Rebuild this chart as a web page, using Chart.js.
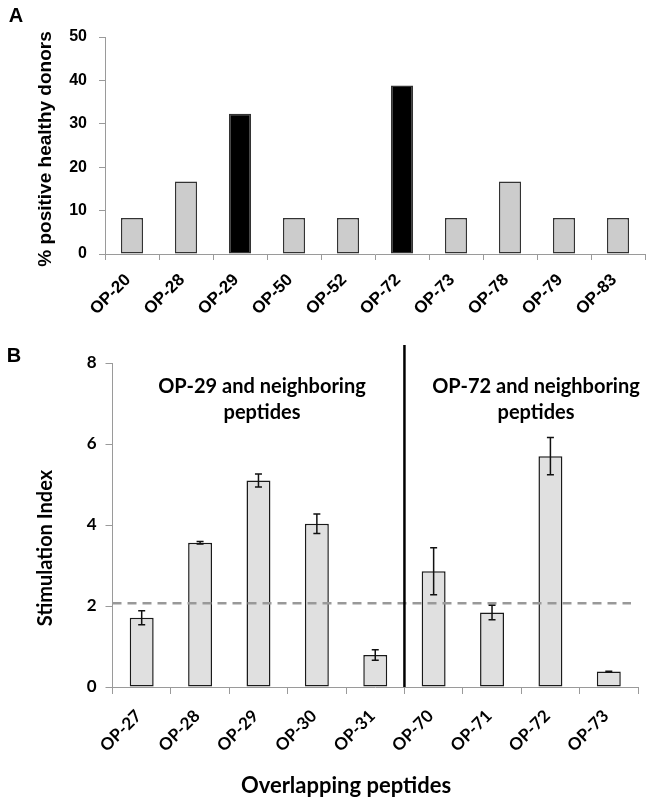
<!DOCTYPE html>
<html>
<head>
<meta charset="utf-8">
<script src="https://cdn.jsdelivr.net/npm/chart.js@4.4.1/dist/chart.umd.min.js"></script>
<style>
  body { margin: 0; background: #fff; }
  #wrap { position: relative; width: 650px; height: 803px; overflow: hidden; }
  canvas { position: absolute; left: 0; }
  .t { position: absolute; transform: translate(-50%, -50%); white-space: nowrap; font-weight: bold; color: #000; line-height: 1.3; text-align: center; }
  .arial { font-family: 'Liberation Sans', Arial, sans-serif; }
  .cal { font-family: Lato, 'Open Sans', sans-serif; }
  .rot { transform: translate(-50%, -50%) rotate(-90deg); }
</style>
</head>
<body>
<div id="wrap">
  <canvas id="chartA" width="650" height="320" style="top:0"></canvas>
  <canvas id="chartB" width="650" height="473" style="top:330px"></canvas>

  <div class="t arial" style="left:16px; top:15px; font-size:20px">A</div>
  <div class="t arial rot" style="left:45px; top:149px; font-size:19px">% positive healthy donors</div>

  <div class="t arial" style="left:14px; top:355px; font-size:20px">B</div>
  <div class="t cal rot" style="left:44px; top:548px; font-size:20px">Stimulation Index</div>
  <div class="t cal" style="left:262px; top:398px; font-size:20px">OP-29 and neighboring<br>peptides</div>
  <div class="t cal" style="left:536px; top:398px; font-size:20px">OP-72 and neighboring<br>peptides</div>
  <div class="t cal" style="left:346px; top:785px; font-size:22px">Overlapping peptides</div>
</div>
<script>
// Panel A: % positive healthy donors
const catsA = ['OP-20', 'OP-28', 'OP-29', 'OP-50', 'OP-52', 'OP-72', 'OP-73', 'OP-78', 'OP-79', 'OP-83'];
const pctA = [8.3, 16.7, 32.3, 8.3, 8.3, 38.8, 8.3, 16.7, 8.3, 8.3];
const highlightA = ['OP-29', 'OP-72'];
const ticksA = [0, 10, 20, 30, 40, 50];

// Panel B: stimulation index (mean, error)
const catsB = ['OP-27', 'OP-28', 'OP-29', 'OP-30', 'OP-31', 'OP-70', 'OP-71', 'OP-72', 'OP-73'];
const siB = [1.71, 3.56, 5.10, 4.03, 0.79, 2.86, 1.84, 5.70, 0.38];
const errB = [0.17, 0.03, 0.16, 0.24, 0.13, 0.58, 0.18, 0.46, 0.01];
const ticksB = [0, 2, 4, 6, 8];
const cutoffB = 2.07;

const arialB = { family: "'Liberation Sans', Arial, sans-serif", weight: 'bold', size: 16 };
const arialX = { family: "'Liberation Sans', Arial, sans-serif", weight: 'bold', size: 17 };
const latoB = { family: "Lato, 'Open Sans', sans-serif", weight: 'bold', size: 17 };
const axisGrey = '#9a9a9a';

const chartA = new Chart(document.getElementById('chartA'), {
    type: 'bar',
    data: {
        labels: catsA,
        datasets: [{
            data: pctA,
            backgroundColor: catsA.map(c => highlightA.includes(c) ? '#000000' : '#cccccc'),
            borderColor: '#333333',
            borderWidth: 1.5,
            borderSkipped: false,
            categoryPercentage: 1,
            barPercentage: 0.41
        }]
    },
    options: {
        responsive: false,
        animation: false,
        layout: { padding: { top: 37, right: 5, left: 0, bottom: 0 } },
        plugins: { legend: { display: false }, tooltip: { enabled: false } },
        scales: {
            x: {
                grid: { drawOnChartArea: false, tickLength: 6, color: axisGrey, offset: true },
                border: { color: axisGrey },
                ticks: { font: arialX, color: '#000', minRotation: 45, maxRotation: 45, padding: 10, labelOffset: -4 },
                afterFit: s => { s.height = 66; }
            },
            y: {
                min: 0, max: 50,
                afterBuildTicks: s => { s.ticks = ticksA.map(v => ({ value: v })); },
                grid: { drawOnChartArea: false, tickLength: 6, color: axisGrey },
                border: { color: axisGrey },
                ticks: { font: arialB, color: '#000', padding: 12 },
                afterFit: s => { s.width = 105; }
            }
        }
    }
});

// error bars, cutoff line and the divider between the two peptide groups
const extrasB = {
    id: 'extrasB',
    afterDatasetsDraw(chart) {
        const { ctx, chartArea, scales: { x, y } } = chart;
        const meta = chart.getDatasetMeta(0);
        ctx.save();

        // dashed cutoff
        ctx.strokeStyle = '#999999';
        ctx.lineWidth = 2.5;
        ctx.setLineDash([9, 6]);
        const yc = y.getPixelForValue(cutoffB);
        ctx.beginPath();
        ctx.moveTo(chartArea.left, yc);
        ctx.lineTo(chartArea.right - 7, yc);
        ctx.stroke();
        ctx.setLineDash([]);

        // error bars
        ctx.strokeStyle = '#111111';
        ctx.lineWidth = 1.5;
        meta.data.forEach((bar, i) => {
            const hi = y.getPixelForValue(siB[i] + errB[i]);
            const lo = y.getPixelForValue(siB[i] - errB[i]);
            ctx.beginPath();
            ctx.moveTo(bar.x, hi); ctx.lineTo(bar.x, lo);
            ctx.moveTo(bar.x - 3.5, hi); ctx.lineTo(bar.x + 3.5, hi);
            ctx.moveTo(bar.x - 3.5, lo); ctx.lineTo(bar.x + 3.5, lo);
            ctx.stroke();
        });

        // divider
        const xd = (x.getPixelForValue(4) + x.getPixelForValue(5)) / 2;
        ctx.strokeStyle = '#000';
        ctx.lineWidth = 2.5;
        ctx.beginPath();
        ctx.moveTo(xd, chartArea.top - 18);
        ctx.lineTo(xd, chartArea.bottom);
        ctx.stroke();
        ctx.restore();
    }
};

const chartB = new Chart(document.getElementById('chartB'), {
    type: 'bar',
    data: {
        labels: catsB,
        datasets: [{
            data: siB,
            backgroundColor: '#e0e0e0',
            borderColor: '#1a1a1a',
            borderWidth: 1.5,
            borderSkipped: false,
            categoryPercentage: 1,
            barPercentage: 0.41
        }]
    },
    options: {
        responsive: false,
        animation: false,
        layout: { padding: { top: 33, right: 12, left: 0, bottom: 0 } },
        plugins: { legend: { display: false }, tooltip: { enabled: false } },
        scales: {
            x: {
                grid: { drawOnChartArea: false, tickLength: 7, color: axisGrey, offset: true },
                border: { color: axisGrey },
                ticks: { font: latoB, color: '#000', minRotation: 45, maxRotation: 45, padding: 12, labelOffset: -3 },
                afterFit: s => { s.height = 116; }
            },
            y: {
                min: 0, max: 8,
                afterBuildTicks: s => { s.ticks = ticksB.map(v => ({ value: v })); },
                grid: { drawOnChartArea: false, tickLength: 7, color: axisGrey },
                border: { color: axisGrey },
                ticks: { font: latoB, color: '#000', padding: 9 },
                afterFit: s => { s.width = 112.5; }
            }
        }
    },
    plugins: [extrasB]
});
</script>
</body>
</html>
